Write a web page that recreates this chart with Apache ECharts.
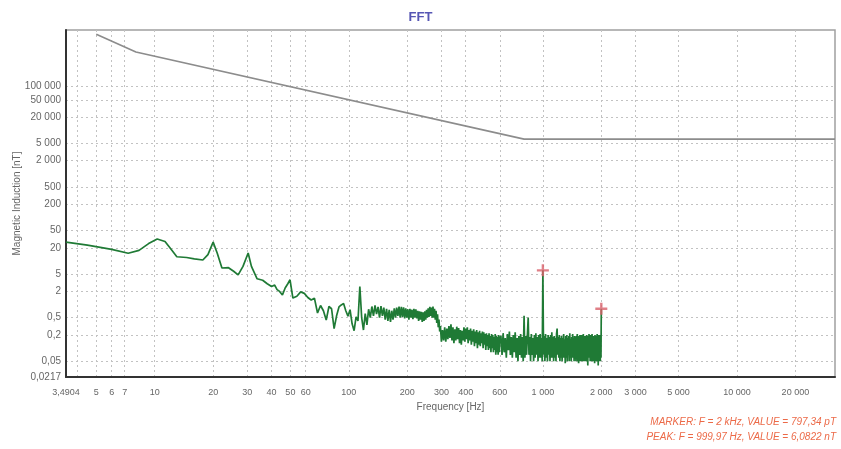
<!DOCTYPE html>
<html><head><meta charset="utf-8">
<script src="https://cdn.jsdelivr.net/npm/echarts@6/dist/echarts.min.js"></script>
<style>html,body{margin:0;padding:0;background:#fff}#c{width:841px;height:449px}</style>
</head><body><div id="c"></div>
<script>
const xTicks = [3.4904,4,5,6,7,10,20,30,40,50,60,100,200,300,400,600,1000,2000,3000,5000,10000,20000];
const yTicks = [0.0217,0.05,0.2,0.5,2,5,20,50,200,500,2000,5000,20000,50000,100000];

// limit curve (grey)
const limitCurve = [[5,1600000],[8,625000],[800,6250],[32000,6250]];

// measured spectrum (green) [Hz, nT]
const spectrumLow = [[3.4904,27],[4.5,23],[6,18.5],[7.3,15],[8.3,17.5],[9.3,25],[10.3,32],[11.3,28],[12.2,18],[13,12.5],
[14.6,12],[16,11.2],[17.7,10.5],[18.8,14],[20,27],[21,15],[22.2,6.9],[24,7],[25.5,5.8],[26.9,4.8],
[28.5,7.5],[30.3,15.2],[31.5,7.5],[33.7,3.9],[36,3.6],[38,3.0],[40,2.6],[41.5,2.8],[42.7,2.2],[44,2.0],
[45.5,1.66],[47,2.4],[48.5,3.0],[49.8,3.7],[51.5,1.41]];

const spectrumMid = [[54,1.55],[56.5,1.95],[59,1.8],[61.5,1.45],[64,1.27],[66.5,1.4],[69,0.64],[71.5,0.95],[74,0.72],[76.5,0.44],
[79,0.9],[81.5,0.8],[84,0.28],[86.5,0.55],[89,0.88],[91.5,0.98],[94,1.05],[96.5,0.72],[99,0.54],[101.5,0.76],
[104,0.36],[106.5,0.25],[109,0.52],[111.5,0.42],[114,2.6],[116.5,0.5],[119,0.26],[121.5,0.62],[124,0.34],[126.5,0.78],
[129,0.5],[131.5,0.9],[134,0.55],[136.5,0.95],[139,0.6],[141.5,0.88],[144,0.5],[146.5,0.92],[149,0.55],[151.5,0.85],
[154,0.45],[156.5,0.8],[159,0.42],[161.5,0.75],[164,0.4],[166.5,0.72],[169,0.45],[171.5,0.82],[174,0.5],[176.5,0.85],
[179,0.55],[181.5,0.9],[184,0.5],[186.5,0.88],[189,0.52],[191.5,0.86],[194,0.48],[196.5,0.82],[199,0.5],[201.5,0.78],
[204,0.45],[206.5,0.8],[209,0.5],[211.5,0.76],[214,0.46],[216.5,0.8],[219,0.5],[221.5,0.78],[224,0.48],[226.5,0.72],
[229,0.42],[231.5,0.7],[234,0.45],[236.5,0.68],[239,0.4],[241.5,0.66],[244,0.42],[246.5,0.7],[249,0.45],[251.5,0.76],
[254,0.5],[256.5,0.82],[259,0.52],[261.5,0.88],[264,0.55],[266.5,0.85],[269,0.5],[271.5,0.9],[274,0.5],[276.5,0.8],
[279,0.45],[281.5,0.72],[284,0.38],[286.5,0.6],[289,0.3],[291.5,0.45],[294,0.24],[296.5,0.32]];

const spectrumUpper = [[300,0.14],[304,0.26],[308,0.15],[312,0.3],[316,0.14],[320,0.28],[324,0.16],[328,0.32],[332,0.17],[336,0.35],
[340,0.15],[344,0.3],[348,0.13],[352,0.27],[356,0.15],[360,0.31],[364,0.16],[368,0.29],[372,0.13],[376,0.26],
[380,0.12],[384,0.25],[388,0.15],[392,0.3],[396,0.14],[400,0.28],[404,0.16],[408,0.3],[412,0.13],[416,0.26],
[420,0.15],[424,0.28],[428,0.12],[432,0.25],[436,0.14],[440,0.27],[444,0.11],[448,0.24],[452,0.13],[456,0.26],
[460,0.1],[464,0.23],[468,0.12],[472,0.25],[476,0.11],[480,0.22],[484,0.13],[488,0.24],[492,0.1],[496,0.23],
[500,0.12],[504,0.21],[508,0.09],[512,0.22],[516,0.11],[520,0.2],[524,0.09],[528,0.22],[532,0.1],[536,0.19],
[540,0.08],[544,0.21],[548,0.1],[552,0.2],[556,0.08],[560,0.18],[564,0.09],[568,0.21],[572,0.07],[576,0.19],
[580,0.08],[584,0.18],[588,0.07],[592,0.2],[596,0.08],[600,0.17]];

const spectrumHigh = [
[608,0.19],[616,0.07],[624,0.22],[632,0.08],[640,0.17],[648,0.06],[656,0.21],[664,0.09],[672,0.24],[680,0.07],
[688,0.18],[696,0.06],[704,0.2],[712,0.08],[720,0.23],[728,0.06],[736,0.17],[744,0.05],[752,0.19],[760,0.07],
[768,0.21],[776,0.06],[784,0.18],[792,0.05],[800,0.55],[808,0.06],[816,0.19],[824,0.07],[832,0.2],[840,0.5],
[848,0.07],[856,0.18],[864,0.05],[872,0.21],[880,0.07],[888,0.17],[896,0.05],[904,0.2],[912,0.06],[920,0.22],
[928,0.07],[936,0.18],[944,0.05],[952,0.2],[960,0.06],[968,0.21],[976,0.06],[984,0.17],[992,0.05],[999.97,6.0822],
[1008,0.07],[1016,0.19],[1024,0.05],[1032,0.21],[1040,0.06],[1048,0.17],[1056,0.05],[1064,0.2],[1072,0.07],[1080,0.18],
[1088,0.05],[1096,0.2],[1104,0.06],[1112,0.23],[1120,0.06],[1128,0.18],[1136,0.05],[1144,0.19],[1152,0.06],[1160,0.17],
[1168,0.05],[1176,0.21],[1184,0.28],[1192,0.07],[1200,0.18],[1208,0.06],[1216,0.2],[1224,0.05],[1232,0.17],[1240,0.06],
[1248,0.19],[1256,0.05],[1264,0.17],[1272,0.06],[1280,0.21],[1288,0.06],[1296,0.16],[1304,0.045],[1312,0.19],[1320,0.06],
[1328,0.2],[1336,0.05],[1344,0.17],[1352,0.07],[1360,0.19],[1368,0.05],[1376,0.22],[1384,0.06],[1392,0.16],[1400,0.05],
[1408,0.18],[1416,0.06],[1424,0.21],[1432,0.06],[1440,0.17],[1448,0.05],[1456,0.19],[1464,0.06],[1472,0.18],[1480,0.05],
[1488,0.19],[1496,0.07],[1504,0.21],[1512,0.05],[1520,0.16],[1528,0.045],[1536,0.19],[1544,0.06],[1552,0.2],[1560,0.05],
[1568,0.17],[1576,0.06],[1584,0.2],[1592,0.05],[1600,0.18],[1608,0.06],[1616,0.21],[1624,0.05],[1632,0.16],[1640,0.06],
[1648,0.19],[1656,0.05],[1664,0.17],[1672,0.07],[1680,0.2],[1688,0.05],[1696,0.17],[1704,0.04],[1712,0.19],[1720,0.06],
[1728,0.21],[1736,0.06],[1744,0.17],[1752,0.05],[1760,0.2],[1768,0.07],[1776,0.18],[1784,0.05],[1792,0.21],[1800,0.06],
[1808,0.18],[1816,0.05],[1824,0.19],[1832,0.07],[1840,0.17],[1848,0.045],[1856,0.2],[1864,0.06],[1872,0.17],[1880,0.05],
[1888,0.19],[1896,0.06],[1904,0.21],[1912,0.05],[1920,0.18],[1928,0.04],[1936,0.2],[1944,0.06],[1952,0.17],[1960,0.05],
[1968,0.2],[1976,0.05],[1984,0.19],[1992,0.06],[2000,0.79734]];

const markerPoints = [[2000,0.79734],[999.97,6.0822]];
const noteLines = ['MARKER: F = 2 kHz, VALUE = 797,34 pT','PEAK: F = 999,97 Hz, VALUE = 6,0822 nT'];

function fmt(v){
  const s = String(+Number(v).toPrecision(5));
  const parts = s.split('.');
  const i = parts[0].replace(/\B(?=(\d{3})+(?!\d))/g,' ');
  return parts[1] ? i + ',' + parts[1] : i;
}

const FONT = "'Liberation Sans', Arial, sans-serif";
const chart = echarts.init(document.getElementById('c'), null, {renderer:'canvas'});
chart.setOption({
  animation:false,
  backgroundColor:'#fff',
  title:{text:'FFT', left:'center', top:6,
    textStyle:{fontSize:13, fontWeight:'bold', color:'#5656b4', fontFamily:FONT}},
  grid:{left:66, right:6, top:30, bottom:72, show:true, borderColor:'#a0a0a0', borderWidth:1.5,
    containLabel:false, outerBoundsMode:'none'},
  xAxis:{type:'log', logBase:10, min:3.4903, max:32000,
    name:'Frequency [Hz]', nameLocation:'middle', nameGap:25, nameMoveOverlap:false,
    nameTextStyle:{fontSize:10, color:'#666', fontFamily:FONT},
    axisLine:{show:true, onZero:false, lineStyle:{color:'#333', width:2}},
    axisTick:{show:false, customValues:xTicks},
    axisLabel:{customValues:xTicks, formatter:fmt, fontSize:9, color:'#666', margin:11, fontFamily:FONT,
      showMinLabel:true, showMaxLabel:true, hideOverlap:false},
    splitLine:{show:true, lineStyle:{type:[2,3], color:'#c2c2c2', width:1}},
    minorTick:{show:false}, minorSplitLine:{show:false}},
  yAxis:{type:'log', logBase:10, min:0.0217, max:2000000,
    name:'Magnetic Induction [nT]', nameLocation:'middle', nameGap:44, nameMoveOverlap:false,
    nameTextStyle:{fontSize:10, color:'#666', fontFamily:FONT},
    axisLine:{show:true, onZero:false, lineStyle:{color:'#333', width:2}},
    axisTick:{show:false, customValues:yTicks},
    axisLabel:{customValues:yTicks, formatter:fmt, fontSize:10, color:'#666', margin:5, fontFamily:FONT,
      showMinLabel:true, showMaxLabel:true, hideOverlap:false},
    splitLine:{show:true, lineStyle:{type:[2,3], color:'#c2c2c2', width:1}},
    minorTick:{show:false}, minorSplitLine:{show:false}},
  series:[
    {type:'line', data:limitCurve, showSymbol:false, symbol:'none',
      lineStyle:{color:'#8c8c8c', width:1.6}, z:3},
    {type:'line', data:spectrumLow.concat(spectrumMid, spectrumUpper, spectrumHigh),
      showSymbol:false, symbol:'none', sampling:null,
      lineStyle:{color:'#1f7a35', width:1.7}, z:4},
    {type:'scatter', data:markerPoints, symbol:'path://M4,0H6V4H10V6H6V10H4V6H0V4H4Z',
      symbolSize:12, itemStyle:{color:'#d8606a'}, z:5}
  ],
  graphic:[
    {type:'text', right:5, top:417, style:{text:noteLines[0], fill:'#ec6a48',
      font:"italic 10px 'Liberation Sans', Arial, sans-serif"}},
    {type:'text', right:5, top:432, style:{text:noteLines[1], fill:'#ec6a48',
      font:"italic 10px 'Liberation Sans', Arial, sans-serif"}}
  ]
});
</script></body></html>
